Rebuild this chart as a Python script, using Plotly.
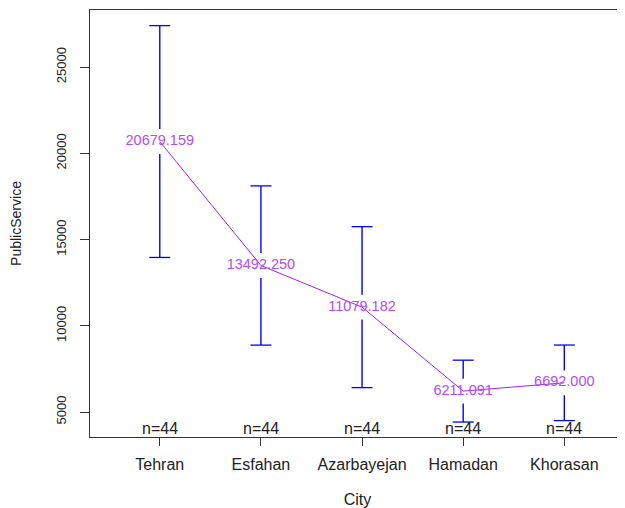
import plotly.graph_objects as go

cities = ["Tehran", "Esfahan", "Azarbayejan", "Hamadan", "Khorasan"]
means = [20679.159, 13492.250, 11079.182, 6211.091, 6692.000]
ci_half = [6720, 4615, 4665, 1793, 2190]
counts = [44, 44, 44, 44, 44]
y_ticks = [5000, 10000, 15000, 20000, 25000]

FONT = "Liberation Sans, Arial, sans-serif"
BAR = "#0000FF"
LINE = "#A020F0"
TEXTC = "#B44CF8"
GAP = 720  # gap around mean label, in data units

fig = go.Figure()

bx, by = [], []
for c, m, h in zip(cities, means, ci_half):
    bx += [c, c, None, c, c, None]
    by += [m + GAP, m + h, None, m - GAP, m - h, None]
fig.add_trace(go.Scatter(x=bx, y=by, mode="lines",
                         line=dict(color=BAR, width=1.4), hoverinfo="skip",
                         showlegend=False))
cx, cy = [], []
for c, m, h in zip(cities, means, ci_half):
    cx += [c, c]
    cy += [m + h, m - h]
fig.add_trace(go.Scatter(x=cx, y=cy, mode="markers",
                         marker=dict(symbol="line-ew", size=15,
                                     line=dict(color=BAR, width=1.3)),
                         hoverinfo="skip", showlegend=False))
fig.add_trace(go.Scatter(x=cities, y=means, mode="lines",
                         line=dict(color=LINE, width=1), showlegend=False))
fig.add_trace(go.Scatter(x=cities, y=means, mode="text",
                         text=[f"{m:.3f}" for m in means],
                         textposition="middle center",
                         textfont=dict(family=FONT, size=14.5, color=TEXTC),
                         showlegend=False))

for c, n in zip(cities, counts):
    fig.add_annotation(x=c, y=0, xref="x", yref="paper", text=f"n={n}",
                       showarrow=False, yanchor="bottom", yshift=-2,
                       font=dict(family=FONT, size=16, color="#222"))

fig.update_layout(
    width=617, height=500,
    margin=dict(l=82, r=0, t=2, b=71),
    plot_bgcolor="white", paper_bgcolor="white",
    font=dict(family=FONT, size=16, color="#222"),
)
fig.update_xaxes(type="category", categoryorder="array", categoryarray=cities,
                 range=[-0.69, 4.6], showgrid=False, zeroline=False,
                 showline=True, linecolor="#333", linewidth=1, mirror=True,
                 ticks="outside", ticklen=8, tickcolor="#333",
                 ticklabelstandoff=5, automargin=False,
                 tickfont=dict(family=FONT, size=16, color="#222"),
                 title=dict(text="City", standoff=21,
                            font=dict(family=FONT, size=16, color="#222")))
fig.update_yaxes(range=[3551, 28304], showgrid=False, zeroline=False,
                 showline=True, linecolor="#333", linewidth=1,
                 ticks="outside", ticklen=9, tickcolor="#333",
                 tickvals=y_ticks, ticktext=[str(v) for v in y_ticks],
                 tickangle=-90, ticklabelstandoff=9, automargin=False,
                 tickfont=dict(family=FONT, size=13, color="#222"),
                 title=dict(text="PublicService", standoff=31,
                            font=dict(family=FONT, size=14, color="#222")))

fig.write_html("out.html")
